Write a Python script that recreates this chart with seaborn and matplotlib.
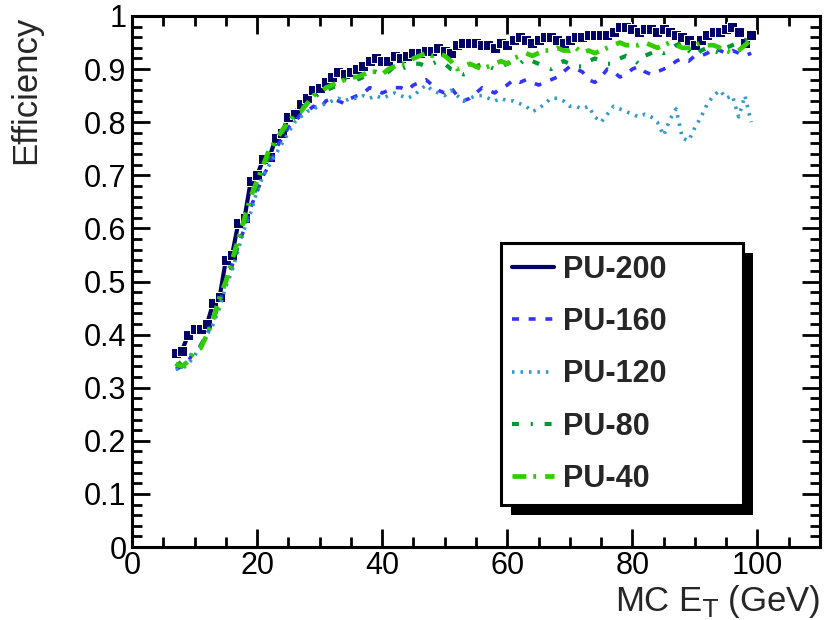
import numpy as np
import pandas as pd
import matplotlib
matplotlib.use("Agg")
import matplotlib.pyplot as plt
import seaborn as sns
from matplotlib.lines import Line2D
from matplotlib.patches import Rectangle
from matplotlib.transforms import IdentityTransform
from matplotlib.ticker import MultipleLocator, FuncFormatter

# MC E_T bins (GeV), 1 GeV steps
energy = list(range(7, 100))

pu200 = [0.365, 0.37, 0.40, 0.41, 0.41, 0.42, 0.46, 0.47, 0.54, 0.55,
         0.61, 0.62, 0.69, 0.70, 0.73, 0.735, 0.77, 0.78, 0.81, 0.815,
         0.835, 0.845, 0.86, 0.865, 0.875, 0.885, 0.895, 0.89, 0.895, 0.90,
         0.905, 0.915, 0.92, 0.915, 0.915, 0.925, 0.92, 0.925, 0.93, 0.93,
         0.935, 0.935, 0.94, 0.935, 0.93, 0.945, 0.95, 0.95, 0.95, 0.945,
         0.945, 0.94, 0.95, 0.945, 0.955, 0.96, 0.955, 0.95, 0.955, 0.96,
         0.96, 0.955, 0.95, 0.955, 0.96, 0.96, 0.965, 0.965, 0.965, 0.965,
         0.97, 0.98, 0.98, 0.975, 0.97, 0.975, 0.975, 0.97, 0.975, 0.97,
         0.965, 0.96, 0.955, 0.945, 0.955, 0.965, 0.97, 0.97, 0.975, 0.98,
         0.97, 0.95, 0.965]

pu160 = [0.335, 0.34, 0.35, 0.37, 0.38, 0.40, 0.43, 0.46, 0.50, 0.53,
         0.57, 0.60, 0.64, 0.67, 0.70, 0.72, 0.75, 0.77, 0.79, 0.80,
         0.815, 0.82, 0.83, 0.825, 0.84, 0.845, 0.84, 0.835, 0.845, 0.85,
         0.855, 0.865, 0.86, 0.855, 0.86, 0.865, 0.865, 0.86, 0.87, 0.875,
         0.88, 0.87, 0.86, 0.855, 0.865, 0.85, 0.84, 0.845, 0.855, 0.865,
         0.86, 0.855, 0.865, 0.87, 0.88, 0.875, 0.88, 0.875, 0.87, 0.875,
         0.88, 0.885, 0.895, 0.905, 0.90, 0.895, 0.88, 0.875, 0.885, 0.90,
         0.895, 0.885, 0.89, 0.90, 0.905, 0.895, 0.89, 0.895, 0.90, 0.905,
         0.915, 0.92, 0.915, 0.925, 0.925, 0.93, 0.94, 0.935, 0.93, 0.935,
         0.93, 0.925, 0.93]

pu120 = [0.335, 0.335, 0.345, 0.36, 0.38, 0.40, 0.42, 0.45, 0.49, 0.52,
         0.56, 0.60, 0.63, 0.67, 0.70, 0.72, 0.74, 0.76, 0.78, 0.80,
         0.81, 0.82, 0.825, 0.83, 0.835, 0.84, 0.845, 0.84, 0.845, 0.845,
         0.85, 0.845, 0.85, 0.845, 0.85, 0.855, 0.85, 0.845, 0.85, 0.86,
         0.87, 0.86, 0.855, 0.85, 0.86, 0.85, 0.84, 0.845, 0.85, 0.85,
         0.845, 0.84, 0.845, 0.84, 0.84, 0.835, 0.83, 0.82, 0.825, 0.835,
         0.845, 0.845, 0.84, 0.83, 0.83, 0.825, 0.83, 0.81, 0.80, 0.815,
         0.83, 0.825, 0.82, 0.815, 0.81, 0.815, 0.81, 0.80, 0.775, 0.805,
         0.825, 0.77, 0.765, 0.79, 0.81, 0.835, 0.85, 0.86, 0.845, 0.85,
         0.81, 0.85, 0.80]

pu80 = [0.34, 0.35, 0.355, 0.37, 0.38, 0.40, 0.43, 0.46, 0.50, 0.53,
        0.57, 0.61, 0.65, 0.68, 0.71, 0.74, 0.76, 0.78, 0.80, 0.81,
        0.825, 0.835, 0.845, 0.855, 0.86, 0.865, 0.87, 0.88, 0.875, 0.88,
        0.885, 0.89, 0.895, 0.89, 0.895, 0.905, 0.90, 0.905, 0.91, 0.91,
        0.905, 0.91, 0.915, 0.91, 0.90, 0.895, 0.89, 0.895, 0.905, 0.91,
        0.905, 0.90, 0.905, 0.91, 0.915, 0.91, 0.92, 0.915, 0.91, 0.905,
        0.90, 0.91, 0.915, 0.91, 0.905, 0.905, 0.915, 0.92, 0.915, 0.91,
        0.91, 0.92, 0.925, 0.92, 0.91, 0.925, 0.93, 0.935, 0.93, 0.935,
        0.945, 0.95, 0.935, 0.925, 0.935, 0.94, 0.935, 0.93, 0.94, 0.945,
        0.95, 0.955, 0.95]

pu40 = [0.345, 0.34, 0.35, 0.37, 0.375, 0.40, 0.43, 0.47, 0.50, 0.54,
        0.58, 0.62, 0.66, 0.69, 0.72, 0.75, 0.765, 0.785, 0.80, 0.815,
        0.82, 0.835, 0.85, 0.855, 0.865, 0.87, 0.875, 0.88, 0.885, 0.885,
        0.89, 0.895, 0.895, 0.89, 0.90, 0.905, 0.91, 0.91, 0.92, 0.925,
        0.93, 0.925, 0.93, 0.925, 0.915, 0.90, 0.905, 0.91, 0.905, 0.90,
        0.905, 0.91, 0.915, 0.91, 0.92, 0.925, 0.93, 0.925, 0.93, 0.935,
        0.935, 0.94, 0.935, 0.935, 0.94, 0.93, 0.935, 0.93, 0.935, 0.94,
        0.945, 0.95, 0.945, 0.945, 0.945, 0.95, 0.945, 0.94, 0.945, 0.95,
        0.945, 0.94, 0.94, 0.945, 0.95, 0.945, 0.945, 0.94, 0.935, 0.93,
        0.935, 0.945, 0.955]

labels = ["PU-200", "PU-160", "PU-120", "PU-80", "PU-40"]
colors = ["#000066", "#3333FF", "#3399CC", "#009933", "#33CC00"]

sns.set_style("ticks")
plt.rcParams["font.family"] = ["Liberation Sans", "DejaVu Sans"]
plt.rcParams["lines.scale_dashes"] = False

fig = plt.figure(figsize=(8.27, 6.2), dpi=100)
ax = fig.add_axes([0.1596, 0.1177, 0.8319, 0.8565])

# line styles (dash patterns in points)
styles = [
    dict(linestyle="-", linewidth=3.0, marker="s", markersize=7.5),
    dict(linestyle=(0, (5, 7)), linewidth=2.6),
    dict(linestyle=(0, (1.8, 4.3)), linewidth=2.6),
    dict(linestyle=(0, (5, 8.5, 1.5, 8.5)), linewidth=3.0),
    dict(linestyle=(0, (10, 5, 2, 6.5)), linewidth=3.4),
]

series = [pu200, pu160, pu120, pu80, pu40]
for i, (vals, lab, col, st) in enumerate(zip(series, labels, colors, styles)):
    sns.lineplot(x=energy, y=vals, color=col, ax=ax, errorbar=None,
                 legend=False, zorder=2 + i, **st)

ax.set_xlim(0, 110)
ax.set_ylim(0, 1)
ax.xaxis.set_major_locator(MultipleLocator(20))
ax.xaxis.set_minor_locator(MultipleLocator(5))
ax.yaxis.set_major_locator(MultipleLocator(0.1))
ax.yaxis.set_minor_locator(MultipleLocator(0.02))
ax.yaxis.set_major_formatter(FuncFormatter(lambda v, p: f"{v:g}"))

for sp in ax.spines.values():
    sp.set_linewidth(2.2)
    sp.set_color("black")
ax.tick_params(which="both", direction="in", top=True, right=True,
               width=2.0, colors="black", labelsize=22)
ax.tick_params(which="major", length=13)
ax.tick_params(which="minor", length=7)
ax.tick_params(axis="y", pad=4)
ax.tick_params(axis="x", pad=3)

ax.set_ylabel("Efficiency", fontsize=25, loc="top")
ax.yaxis.set_label_coords(-0.131, 1.0)
ax.set_xlabel(r"MC E$_{\rm T}$ (GeV)", fontsize=25, loc="right")
ax.xaxis.set_label_coords(1.0, -0.068)

handles = []
for lab, col, st in zip(labels, colors, styles):
    st2 = {k: v for k, v in st.items() if k not in ("marker", "markersize")}
    handles.append(Line2D([], [], color=col, **st2))

leg = ax.legend(handles=handles, labels=labels, loc="upper left",
                bbox_to_anchor=(0.536, 0.083, 0.352, 0.4895), mode="expand",
                prop={"weight": "bold", "size": 22}, frameon=True,
                fancybox=False, edgecolor="black", framealpha=1,
                handlelength=1.35, handletextpad=0.3, labelspacing=0.73,
                borderpad=0.38, borderaxespad=0)
leg.get_frame().set_linewidth(2.2)
leg.set_zorder(20)

# solid black drop shadow behind legend box
fig.canvas.draw()
bb = leg.get_window_extent()
shadow = Rectangle((bb.x0 + 10, bb.y0 - 10), bb.width, bb.height,
                   transform=IdentityTransform(), facecolor="black",
                   edgecolor="none", zorder=19, clip_on=False)
ax.add_patch(shadow)

fig.savefig("out.png", dpi=100)
